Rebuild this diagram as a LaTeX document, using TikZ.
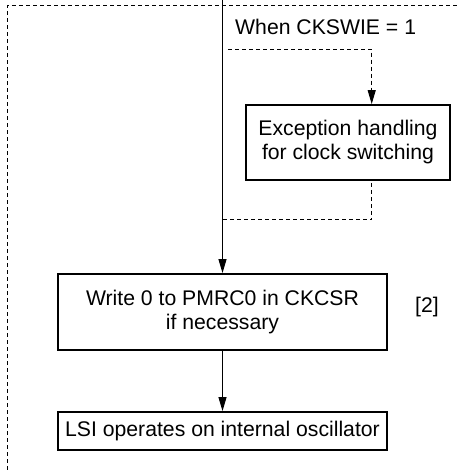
\documentclass[tikz,border=0pt]{standalone}
\usepackage{fontspec}
\setmainfont{Liberation Sans}
\usetikzlibrary{arrows.meta,calc}
\begin{document}
\begin{tikzpicture}[x=1pt,y=1pt,
  font=\fontsize{21.2}{24}\selectfont,
  procbox/.style={draw,line width=1.8pt,align=center,inner sep=0pt},
  flow/.style={line width=1pt,-{Triangle[length=14pt,width=8pt]}},
  dflow/.style={line width=1pt,dash pattern=on 4pt off 3pt,-{Triangle[length=14pt,width=8pt]}},
  dline/.style={line width=1pt,dash pattern=on 4pt off 3pt}]
\useasboundingbox (0,0) rectangle (459,470);
% outer dashed frame
\coordinate (fbl) at (7,0);
\coordinate (ftl) at (7,464);
\coordinate (ftr) at (459,464);
\draw[dline] (fbl) -- (ftl) -- (ftr);
% nodes
\node[procbox,minimum width=329pt,minimum height=76pt] (b1) at (222.5,158) {Write 0 to PMRC0 in CKCSR\\if necessary};
\node[procbox,minimum width=329pt,minimum height=38pt] (b2) at (222.5,39) {LSI operates on internal oscillator};
\node[procbox,minimum width=204pt,minimum height=75pt] (exc) at (348,327.5) {Exception handling\\for clock switching};
\node[anchor=west,inner sep=0pt] (cond) at (235,443) {When CKSWIE = 1};
\node[inner sep=0pt] (ref) at (427,163) {[2]};
% main flow
\coordinate (top) at (222.5,470);
\draw[flow] (top) -- (b1.north);
\draw[flow] (b1.south) -- (b2.north);
% dashed branch
\coordinate (ds) at (228,420.7);
\coordinate (dc) at (371.7,420.7);
\draw[dflow] (ds) -- (dc) -- (dc |- exc.north);
\coordinate (rs) at (371.7,287);
\coordinate (rc) at (371.7,250);
\coordinate (re) at (222.5,250);
\draw[dline] (rs) -- (rc) -- (re);
\end{tikzpicture}
\end{document}
